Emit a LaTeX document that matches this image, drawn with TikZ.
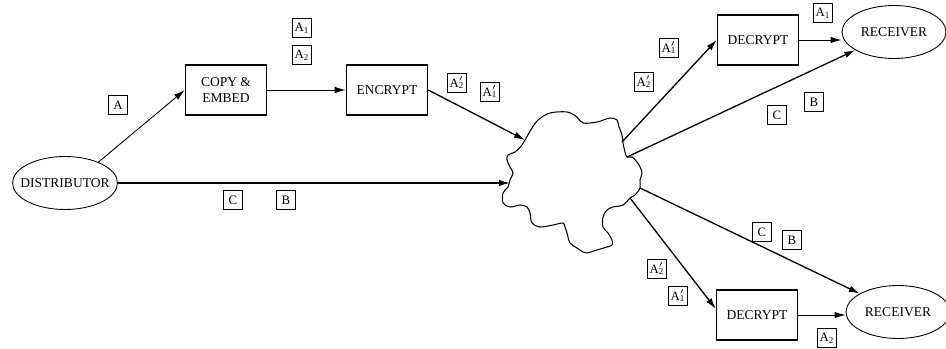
\documentclass[tikz,border=0pt]{standalone}
\usepackage{fontspec}
\setmainfont{Liberation Serif}
\usetikzlibrary{shapes.geometric,arrows.meta,positioning,calc}

\newcommand{\Ap}[1]{A\rlap{$'$}\textsubscript{#1}}

\begin{document}
\begin{tikzpicture}[
    x = 0.02cm, y = -0.02cm,
    block/.style = {rectangle, draw, line width=0.9pt, align=center, font=\fontsize{7.7}{9}\selectfont, minimum height=1cm, minimum width=1.62cm, inner sep=1pt},
    party/.style = {ellipse, draw, line width=0.5pt, font=\fontsize{7.7}{9}\selectfont, minimum height=1.06cm, minimum width=2.08cm, inner sep=0pt},
    tag/.style = {rectangle, draw, line width=0.4pt, font=\fontsize{7.3}{8}\selectfont, minimum size=0.37cm, inner sep=0.5pt},
    arrow/.style = {line width=0.75pt, -{Latex[length=2.2mm,width=1.3mm]}},
    thinarrow/.style = {line width=0.5pt, -{Latex[length=2.2mm,width=1.3mm]}}
]
\useasboundingbox (0,0) rectangle (946,348);

% Sender side
\node [party, inner xsep=-0.15cm] (dist) at (65,183) {DISTRIBUTOR};
\node [block] (copy) at (226,90) {COPY \&\\EMBED};
\node [block] (enc) at (387,90) {ENCRYPT};

% Network cloud
\draw [line width=0.6pt] plot [smooth cycle, tension=0.55] coordinates {
    (525,140) (532,128) (538,120) (550,113) (567,112) (577,117) (583,123)
    (597,122) (610,118) (617,120) (619,127) (622,135) (623,143) (625,152)
    (627,157) (632,157) (637,162) (640,167) (642,173) (640,180) (640,188)
    (635,195) (630,198) (623,205) (613,207) (607,210) (603,217) (603,227)
    (608,233) (612,240) (612,245) (607,247) (597,250) (587,253) (583,252)
    (577,248) (570,243) (567,233) (565,227) (563,223) (553,225) (540,227)
    (532,223) (530,213) (527,207) (520,205) (510,207) (503,203) (503,193)
    (508,187) (510,180) (513,173) (510,167) (507,160) (508,155) (515,152)
    (522,145)};
\coordinate (cin1) at (525,140);
\coordinate (cin2) at (510,183);
\coordinate (cout1) at (622,142);
\coordinate (cout2) at (627,157);
\coordinate (cout3) at (640,188);
\coordinate (cout4) at (630,198);

% Receiver side
\node [block] (dec1) at (758,40) {DECRYPT};
\node [party] (rcv1) at (894,32) {RECEIVER};
\node [block] (dec2) at (757,315) {DECRYPT};
\node [party] (rcv2) at (898,312) {RECEIVER};

% Tags
\node [tag] (tA) at (118,105) {A};
\node [tag] (tA1) at (302,28) {A\textsubscript{1}};
\node [tag] (tA2) at (302,55) {A\textsubscript{2}};
\node [tag] (tC) at (233,200) {C};
\node [tag] (tB) at (286,200) {B};
\node [tag] (eA2) at (457,83) {\Ap{2}};
\node [tag] (eA1) at (490,92) {\Ap{1}};
\node [tag] (uA1) at (669,48) {\Ap{1}};
\node [tag] (uA2) at (644,82) {\Ap{2}};
\node [tag] (uC) at (777,115) {C};
\node [tag] (uB) at (814,102) {B};
\node [tag] (rA1) at (823,13) {A\textsubscript{1}};
\node [tag] (lC) at (762,232) {C};
\node [tag] (lB) at (792,240) {B};
\node [tag] (lA2) at (657,269) {\Ap{2}};
\node [tag] (lA1) at (678,296) {\Ap{1}};
\node [tag] (rA2) at (827,338) {A\textsubscript{2}};

% Arrows
\draw [thinarrow] (dist.32) -- (copy.west);
\draw [thinarrow] (copy) -- (enc);
\draw [arrow] (enc.east) -- (cin1);
\draw [arrow] (dist.east) -- (cin2);
\draw [arrow] (cout1) -- (dec1.west);
\draw [arrow] (cout2) -- (rcv1);
\draw [arrow] (cout3) -- (rcv2);
\draw [arrow] (cout4) -- ($(dec2.north west)!0.38!(dec2.south west)$);
\draw [thinarrow] (dec1.east) -- (dec1.east -| rcv1.west);
\draw [thinarrow] (dec2.east) -- (dec2.east -| rcv2.west);

\end{tikzpicture}
\end{document}
